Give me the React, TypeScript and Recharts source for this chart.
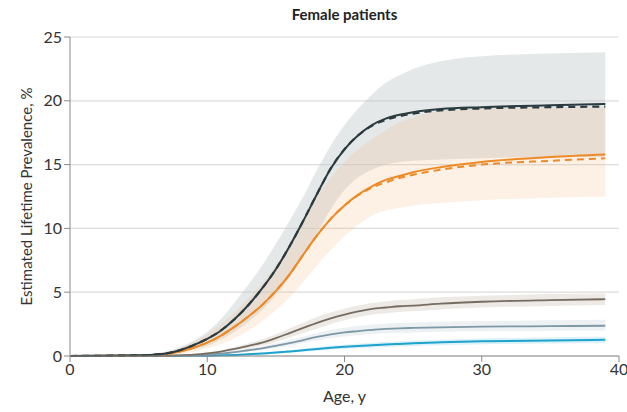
import React from "react";
import {
  ComposedChart,
  Area,
  Line,
  XAxis,
  YAxis,
  CartesianGrid,
} from "recharts";

const ages = [0, 5, 7, 8, 9, 10, 11, 12, 13, 14, 15, 16, 17, 18, 19, 20, 21, 22, 23, 24, 25, 27, 30, 35, 39];

// dark series (solid + dashed) with grey band
const darkMean = [0, 0.05, 0.2, 0.45, 0.85, 1.35, 2.0, 2.9, 4.0, 5.3, 6.8, 8.6, 10.6, 12.7, 14.7, 16.2, 17.3, 18.1, 18.6, 18.9, 19.1, 19.35, 19.5, 19.65, 19.75];
const darkDashed = [0, 0.05, 0.2, 0.45, 0.85, 1.35, 2.0, 2.9, 4.0, 5.3, 6.8, 8.6, 10.6, 12.7, 14.7, 16.2, 17.3, 18.05, 18.5, 18.8, 19.0, 19.25, 19.4, 19.5, 19.55];
const darkLow = [0, 0, 0.1, 0.25, 0.5, 0.8, 1.3, 1.9, 2.7, 3.6, 4.8, 6.2, 7.8, 9.6, 11.5, 13.0, 14.0, 14.6, 15.0, 15.2, 15.3, 15.4, 15.5, 15.6, 15.6];
const darkHigh = [0, 0.1, 0.35, 0.7, 1.2, 1.9, 2.9, 4.2, 5.6, 7.1, 8.8, 10.6, 12.5, 14.6, 16.5, 18.1, 19.4, 20.5, 21.4, 22.0, 22.5, 23.1, 23.5, 23.7, 23.8];

// orange series (solid + dashed) with orange band
const orangeMean = [0, 0.03, 0.15, 0.35, 0.65, 1.05, 1.6, 2.3, 3.1, 4.0, 5.1, 6.4, 7.95, 9.45, 10.75, 11.8, 12.65, 13.3, 13.8, 14.1, 14.4, 14.8, 15.2, 15.6, 15.8];
const orangeDashed = [0, 0.03, 0.15, 0.35, 0.65, 1.05, 1.6, 2.3, 3.1, 4.0, 5.1, 6.4, 7.95, 9.45, 10.75, 11.8, 12.6, 13.2, 13.6, 13.95, 14.2, 14.6, 15.0, 15.3, 15.5];
const orangeLow = [0, 0, 0.05, 0.15, 0.35, 0.6, 0.95, 1.4, 2.0, 2.7, 3.6, 4.6, 5.8, 7.1, 8.3, 9.4, 10.3, 11.0, 11.4, 11.6, 11.8, 12.0, 12.2, 12.4, 12.5];
const orangeHigh = [0, 0.1, 0.3, 0.6, 1.1, 1.7, 2.5, 3.4, 4.5, 5.7, 7.1, 8.7, 10.6, 12.5, 14.0, 15.2, 16.2, 17.0, 17.7, 18.3, 18.7, 19.2, 19.4, 19.5, 19.5];

// brown series
const brownMean = [0, 0, 0.02, 0.05, 0.1, 0.2, 0.35, 0.55, 0.8, 1.05, 1.4, 1.8, 2.2, 2.6, 2.95, 3.25, 3.5, 3.7, 3.8, 3.9, 3.95, 4.1, 4.25, 4.38, 4.45];
const brownLow = [0, 0, 0.01, 0.03, 0.07, 0.14, 0.26, 0.42, 0.62, 0.82, 1.1, 1.45, 1.8, 2.15, 2.5, 2.8, 3.05, 3.25, 3.35, 3.45, 3.5, 3.65, 3.8, 3.92, 4.0];
const brownHigh = [0, 0, 0.04, 0.08, 0.14, 0.27, 0.45, 0.7, 1.0, 1.3, 1.7, 2.15, 2.6, 3.05, 3.4, 3.7, 3.95, 4.15, 4.28, 4.38, 4.45, 4.6, 4.72, 4.85, 4.9];

// steel blue series
const steelMean = [0, 0, 0.01, 0.03, 0.06, 0.1, 0.18, 0.3, 0.45, 0.6, 0.8, 1.0, 1.25, 1.5, 1.7, 1.85, 1.95, 2.05, 2.12, 2.17, 2.2, 2.25, 2.3, 2.34, 2.37];
const steelLow = [0, 0, 0, 0.02, 0.04, 0.07, 0.13, 0.22, 0.34, 0.47, 0.63, 0.8, 1.02, 1.22, 1.4, 1.53, 1.63, 1.72, 1.78, 1.82, 1.85, 1.9, 1.94, 1.98, 2.0];
const steelHigh = [0, 0, 0.02, 0.05, 0.09, 0.14, 0.24, 0.4, 0.58, 0.77, 1.0, 1.25, 1.52, 1.8, 2.05, 2.22, 2.35, 2.45, 2.52, 2.58, 2.62, 2.68, 2.74, 2.8, 2.85];

// cyan series
const cyanMean = [0, 0, 0, 0.01, 0.01, 0.02, 0.05, 0.08, 0.13, 0.2, 0.27, 0.35, 0.45, 0.55, 0.64, 0.72, 0.79, 0.85, 0.9, 0.95, 1.0, 1.07, 1.15, 1.22, 1.27];
const cyanLow = [0, 0, 0, 0, 0, 0.01, 0.03, 0.05, 0.09, 0.14, 0.2, 0.26, 0.34, 0.42, 0.5, 0.56, 0.62, 0.67, 0.71, 0.75, 0.79, 0.85, 0.92, 0.98, 1.02];
const cyanHigh = [0, 0, 0, 0.02, 0.03, 0.04, 0.08, 0.12, 0.18, 0.27, 0.35, 0.45, 0.57, 0.69, 0.79, 0.88, 0.96, 1.03, 1.09, 1.15, 1.2, 1.28, 1.37, 1.45, 1.5];

const xTicks = [0, 10, 20, 30, 40];
const yTicks = [0, 5, 10, 15, 20, 25];

const rows = ages.map((age, i) => ({
  age,
  darkMean: darkMean[i],
  darkDashed: darkDashed[i],
  darkBand: [darkLow[i], darkHigh[i]],
  orangeMean: orangeMean[i],
  orangeDashed: orangeDashed[i],
  orangeBand: [orangeLow[i], orangeHigh[i]],
  brownMean: brownMean[i],
  brownBand: [brownLow[i], brownHigh[i]],
  steelMean: steelMean[i],
  steelBand: [steelLow[i], steelHigh[i]],
  cyanMean: cyanMean[i],
  cyanBand: [cyanLow[i], cyanHigh[i]],
}));

const FONT = "Lato, 'Open Sans', sans-serif";

export default function App() {
  return (
    <div style={{ position: "absolute", left: 0, top: 0, width: 627, height: 412, background: "#fff" }}>
      <div
        style={{
          position: "absolute",
          left: 70,
          width: 549,
          top: 5,
          textAlign: "center",
          fontFamily: FONT,
          fontWeight: 700,
          fontSize: 15,
          color: "#222",
        }}
      >
        Female patients
      </div>
      <ComposedChart
        width={627}
        height={412}
        data={rows}
        margin={{ top: 37, right: 8, bottom: 4, left: 0 }}
      >
        <CartesianGrid vertical={false} stroke="#dcdcdc" strokeWidth={1.2} />
        <XAxis
          dataKey="age"
          type="number"
          domain={[0, 40]}
          ticks={xTicks}
          height={52}
          stroke="#8a8a8a"
          tick={{ fill: "#333", fontSize: 16, fontFamily: FONT }}
          tickSize={6}
          label={{
            value: "Age, y",
            position: "insideBottom",
            offset: 6,
            style: { fill: "#333", fontSize: 16, fontFamily: FONT },
          }}
        />
        <YAxis
          type="number"
          domain={[0, 25]}
          ticks={yTicks}
          width={70}
          stroke="#8a8a8a"
          tick={{ fill: "#333", fontSize: 16, fontFamily: FONT }}
          tickSize={6}
          label={{
            value: "Estimated Lifetime Prevalence, %",
            angle: -90,
            position: "insideLeft",
            dx: 22,
            textAnchor: "middle",
            style: { fill: "#333", fontSize: 15, fontFamily: FONT, textAnchor: "middle" },
          }}
        />

        {/* bands */}
        <Area type="monotone" dataKey="darkBand" stroke="none" fill="#bfc7cb" fillOpacity={0.42} isAnimationActive={false} />
        <Area type="monotone" dataKey="orangeBand" stroke="none" fill="#f7b676" fillOpacity={0.2} isAnimationActive={false} />
        <Area type="monotone" dataKey="brownBand" stroke="none" fill="#d8cfc4" fillOpacity={0.45} isAnimationActive={false} />
        <Area type="monotone" dataKey="steelBand" stroke="none" fill="#d3dde3" fillOpacity={0.4} isAnimationActive={false} />
        <Area type="monotone" dataKey="cyanBand" stroke="none" fill="#b9e3f2" fillOpacity={0.5} isAnimationActive={false} />

        {/* lines */}
        <Line type="monotone" dataKey="cyanMean" stroke="#1ea3cc" strokeWidth={2} dot={false} isAnimationActive={false} />
        <Line type="monotone" dataKey="steelMean" stroke="#7e98a6" strokeWidth={1.8} dot={false} isAnimationActive={false} />
        <Line type="monotone" dataKey="brownMean" stroke="#776c62" strokeWidth={1.8} dot={false} isAnimationActive={false} />
        <Line type="monotone" dataKey="orangeDashed" stroke="#ee8a25" strokeWidth={2} strokeDasharray="7 5" dot={false} isAnimationActive={false} />
        <Line type="monotone" dataKey="orangeMean" stroke="#ee8a25" strokeWidth={2} dot={false} isAnimationActive={false} />
        <Line type="monotone" dataKey="darkDashed" stroke="#2b3b40" strokeWidth={2.2} strokeDasharray="7 5" dot={false} isAnimationActive={false} />
        <Line type="monotone" dataKey="darkMean" stroke="#2b3b40" strokeWidth={2} dot={false} isAnimationActive={false} />
      </ComposedChart>
    </div>
  );
}
